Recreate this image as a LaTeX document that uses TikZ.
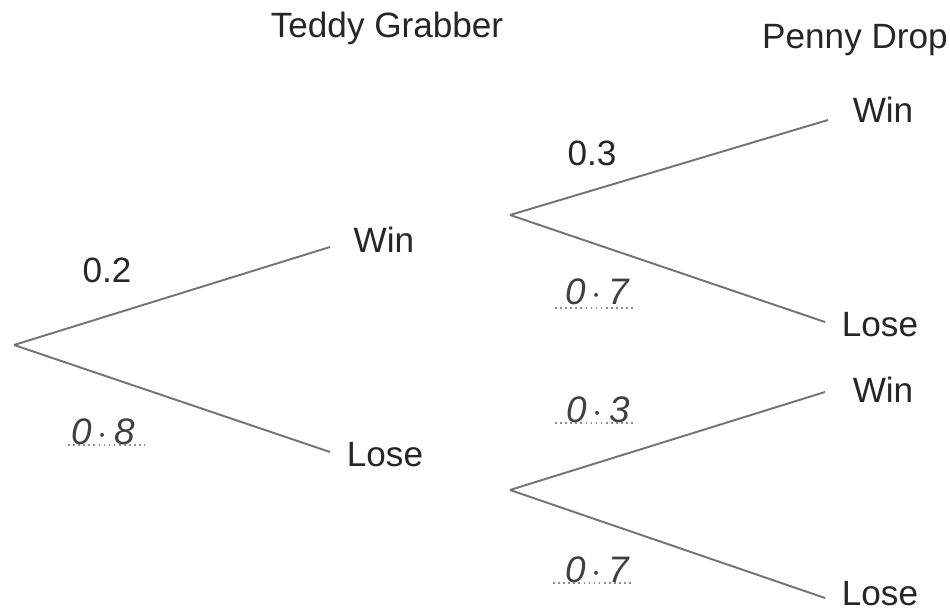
\documentclass[tikz,border=0pt]{standalone}
\usepackage{fontspec}
\setmainfont{Liberation Sans}
\usetikzlibrary{positioning}

\tikzset{
  branch/.style={draw=black!55, line width=1.1pt},
  outcome/.style={font=\fontsize{20}{24}\selectfont, text=black!85, inner sep=0pt},
  prob/.style={font=\fontsize{20}{24}\selectfont, text=black!85, inner sep=0pt},
  hand/.style={font=\fontsize{21}{24}\selectfont\itshape, text=black!75, inner sep=0pt},
  dots/.style={draw=black!45, dotted, line width=0.9pt}
}

\begin{document}
\begin{tikzpicture}[x=0.02cm,y=-0.02cm]
\useasboundingbox (0,0) rectangle (950,614);

% column titles
\node[outcome] (teddy) at (387,28) {Teddy Grabber};
\node[outcome] (penny) at (855,40) {Penny Drop};

% first game
\coordinate (root) at (14,345);
\coordinate (tw) at (330,247);
\coordinate (tl) at (330,452);
\node[outcome] (teddywin) at (384,240) {Win};
\node[outcome] (teddylose) at (385,455) {Lose};
\draw[branch] (root) -- (tw);
\draw[branch] (root) -- (tl);

% second game after a win
\coordinate (rw) at (510,215);
\coordinate (ww) at (828,120);
\coordinate (wl) at (825,322);
\node[outcome] (winwin) at (883,110) {Win};
\node[outcome] (winlose) at (880,325) {Lose};
\draw[branch] (rw) -- (ww);
\draw[branch] (rw) -- (wl);

% second game after a loss
\coordinate (rl) at (510,490);
\coordinate (lw) at (825,392);
\coordinate (ll) at (825,598);
\node[outcome] (losewin) at (883,390) {Win};
\node[outcome] (loselose) at (880,594) {Lose};
\draw[branch] (rl) -- (lw);
\draw[branch] (rl) -- (ll);

% printed probabilities
\node[prob] (p1) at (107,270) {0.2};
\node[prob] (p2) at (592,153) {0.3};

% filled-in probabilities
\node[hand] (q1) at (103,432) {0\,$\cdot$\,8};
\draw[dots] (68,445) -- (145,445);
\node[hand] (q2) at (597,292) {0\,$\cdot$\,7};
\draw[dots] (555,308) -- (633,308);
\node[hand] (q3) at (598,410) {0\,$\cdot$\,3};
\draw[dots] (555,423) -- (633,423);
\node[hand] (q4) at (597,570) {0\,$\cdot$\,7};
\draw[dots] (553,583) -- (633,583);
\end{tikzpicture}
\end{document}
